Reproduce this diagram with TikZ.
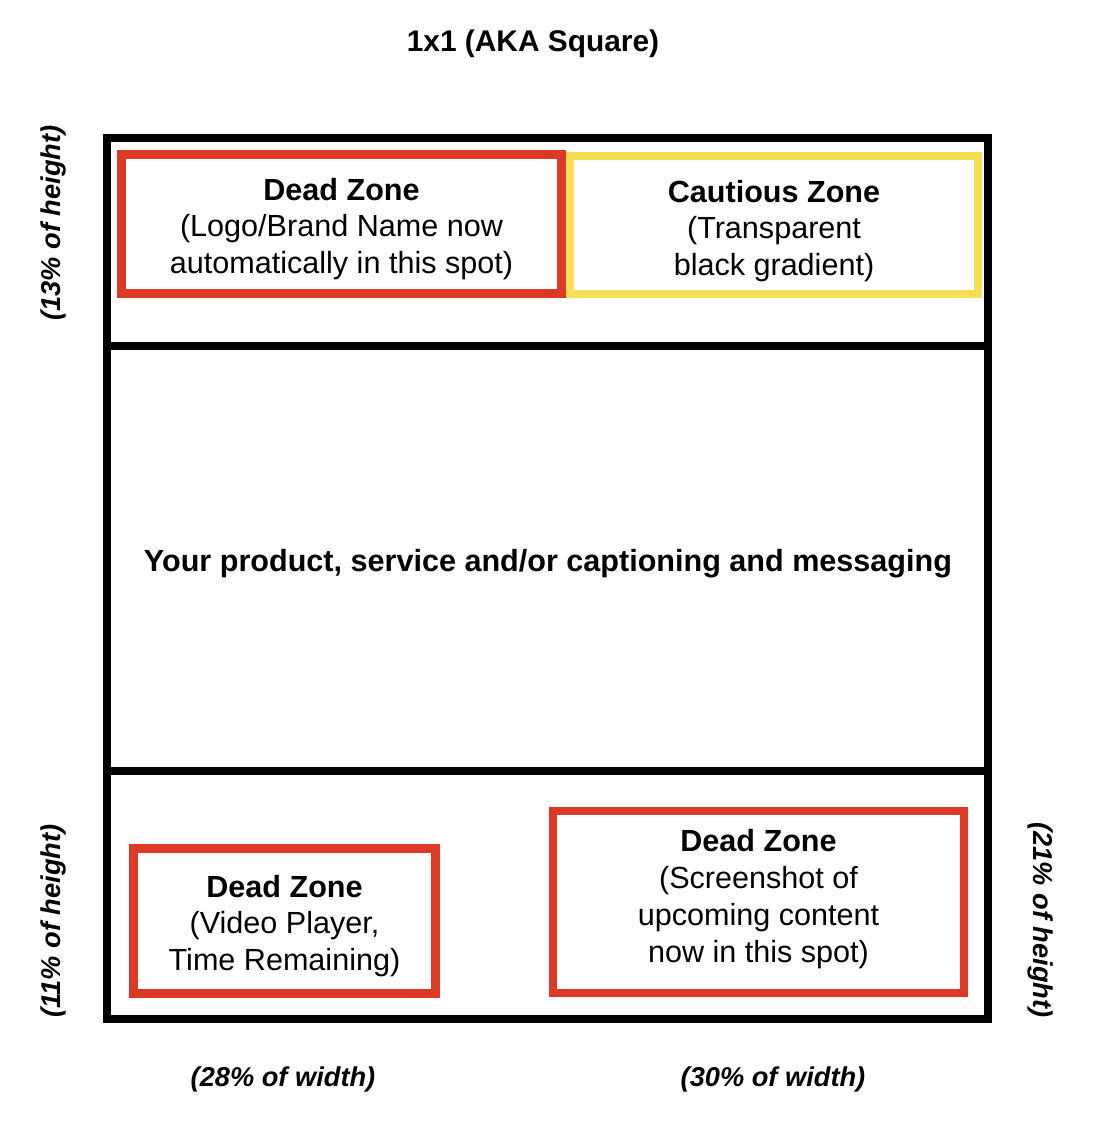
\documentclass[tikz,border=0pt]{standalone}
\usepackage{fontspec}
\setmainfont{Liberation Sans}
\usepackage{tikz}
\usetikzlibrary{positioning}

\definecolor{zonered}{RGB}{220,58,38}
\definecolor{zoneyellow}{RGB}{246,222,86}

\begin{document}
\begin{tikzpicture}[x=0.02cm,y=-0.02cm,
  zone/.style={draw,line width=4.8pt,inner sep=0pt},
  zonetext/.style={align=center,inner sep=0pt,
    font=\fontsize{17.4pt}{21pt}\selectfont},
  note/.style={font=\fontsize{15.5pt}{19pt}\selectfont\bfseries\itshape}]
\useasboundingbox (0,0) rectangle (1116,1138);
\tikzset{frame/.style={line width=4.6pt,draw=black}}
  \node[font=\fontsize{17pt}{20pt}\selectfont\bfseries] (Title) at (533,44) {1x1 (AKA Square)};
  \coordinate (FrameNW) at (107,138);
  \coordinate (FrameSE) at (988,1019);
  \draw[frame] (FrameNW) rectangle (FrameSE);
  \draw[frame] (FrameNW |- 0,346) -- (FrameSE |- 0,346);
  \draw[frame] (FrameNW |- 0,771) -- (FrameSE |- 0,771);
  % zones
  \node[zone,draw=zonered,minimum width=8.8cm,minimum height=2.78cm] (DeadTop) at (341.5,224) {};
  \node[zonetext] (DeadTopText) at ([yshift=-0.1cm]DeadTop.center)
    {\textbf{Dead Zone}\\(Logo/Brand Name now\\automatically in this spot)};
  \node[zone,draw=zoneyellow,minimum width=8.17cm,minimum height=2.77cm] (Cautious) at (774,225) {};
  \node[zonetext] (CautiousText) at ([yshift=-0.12cm]Cautious.center)
    {\textbf{Cautious Zone}\\(Transparent\\black gradient)};
  \node[zonetext,font=\fontsize{17.4pt}{21pt}\selectfont\bfseries] (Product) at (548,564)
    {Your product, service and/or captioning and messaging};
  \node[zone,draw=zonered,minimum width=6.04cm,minimum height=2.9cm] (DeadVideo) at (284.5,921) {};
  \node[zonetext] (DeadVideoText) at ([yshift=-0.1cm]DeadVideo.center)
    {\textbf{Dead Zone}\\(Video Player,\\Time Remaining)};
  \node[zone,draw=zonered,minimum width=8.22cm,minimum height=3.64cm] (DeadShot) at (758.5,902) {};
  \node[zonetext] (DeadShotText) at ([yshift=0.06cm]DeadShot.center)
    {\textbf{Dead Zone}\\(Screenshot of\\upcoming content\\now in this spot)};
  % percentages
  \node[note,rotate=90] (TopHeight) at (53,223) {(13\% of height)};
  \node[note,rotate=90] (VideoHeight) at (53,921) {(11\% of height)};
  \node[note,rotate=-90] (ShotHeight) at (1041,920) {(21\% of height)};
  \node[note] (VideoWidth) at (283,1079) {(28\% of width)};
  \node[note] (ShotWidth) at (773,1079) {(30\% of width)};
\end{tikzpicture}
\end{document}
